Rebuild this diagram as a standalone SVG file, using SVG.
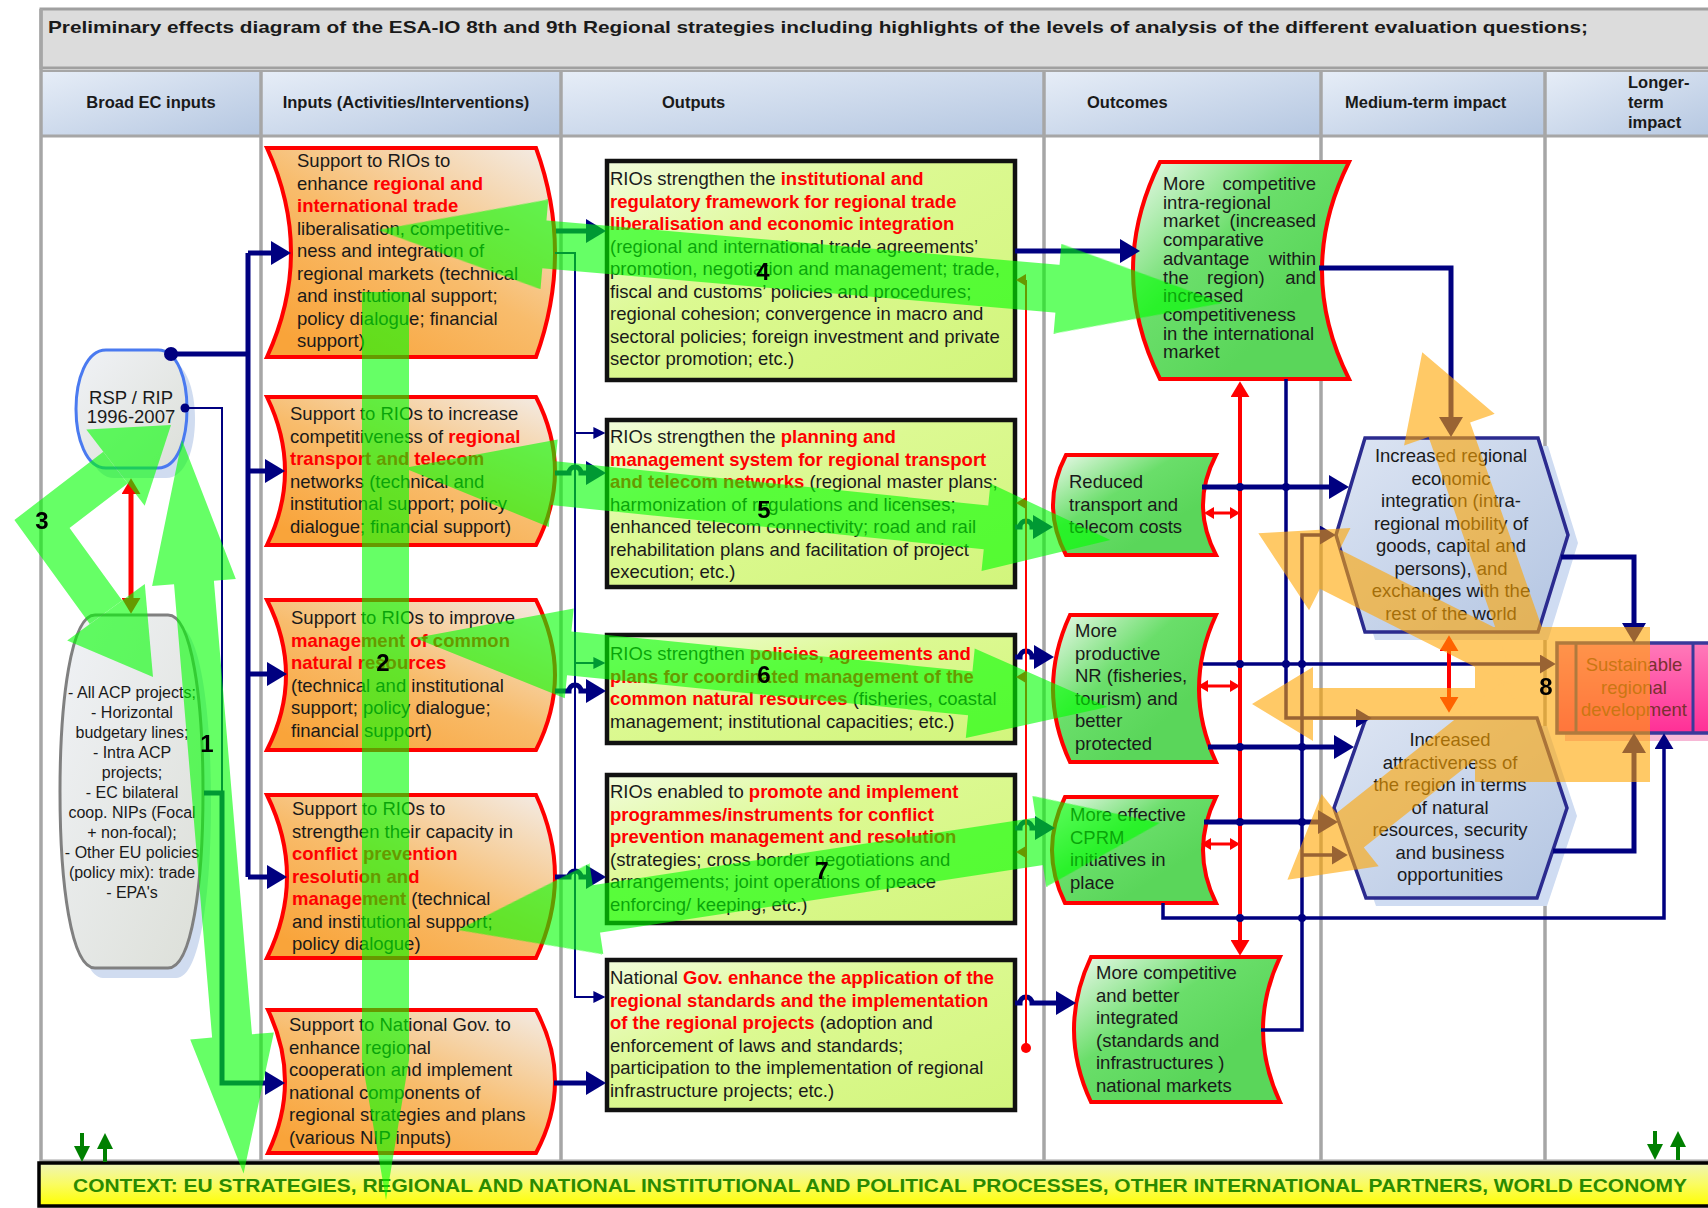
<svg xmlns="http://www.w3.org/2000/svg" width="1708" height="1208" viewBox="0 0 1708 1208">
<defs>
<style>
.tx{font-family:"Liberation Sans",Arial,sans-serif;font-size:18.5px;fill:#1a1a1a}
.r{font-weight:bold;fill:#ff0000}
.sm{font-size:16px}
.c{text-anchor:middle}
.e{text-anchor:end}
.hd{font-family:"Liberation Sans",Arial,sans-serif;font-size:16.5px;font-weight:bold;fill:#1a1a1a}
.num{font-family:"Liberation Sans",Arial,sans-serif;font-size:24px;font-weight:bold;fill:#000;text-anchor:middle}
.inp{fill:url(#gi);stroke:#ff0000;stroke-width:4}
.out{fill:url(#gu);stroke:#111;stroke-width:4.5}
.oc{fill:url(#go);stroke:#ff0000;stroke-width:4}
.hex{fill:url(#gh);stroke:#2b2b8f;stroke-width:3.5}
.hsh{fill:#cfdcf2}
.nk{fill:none;stroke:#000080;stroke-width:5}
.nm{fill:none;stroke:#000080;stroke-width:3.5}
.nt{fill:none;stroke:#000080;stroke-width:2}
.rd{fill:none;stroke:#ff0000}
.col{stroke:#a6a6a6;stroke-width:3.5}
</style>
<linearGradient id="gi" x1="1" y1="0" x2="0.2" y2="1"><stop offset="0" stop-color="#f3ede9"/><stop offset="0.55" stop-color="#f8bc6c"/><stop offset="1" stop-color="#f9a43a"/></linearGradient>
<linearGradient id="go" x1="0" y1="0" x2="0.7" y2="0.7"><stop offset="0" stop-color="#eef9ee"/><stop offset="0.55" stop-color="#6ade6a"/><stop offset="1" stop-color="#5ad65a"/></linearGradient>
<linearGradient id="gu" x1="0" y1="0" x2="1" y2="1"><stop offset="0" stop-color="#f2fcdc"/><stop offset="0.4" stop-color="#dcf992"/><stop offset="1" stop-color="#d2f57c"/></linearGradient>
<linearGradient id="gh" x1="0" y1="0" x2="1" y2="1"><stop offset="0" stop-color="#dde5f3"/><stop offset="1" stop-color="#b3c5e2"/></linearGradient>
<linearGradient id="gs" x1="0" y1="0" x2="0" y2="1"><stop offset="0" stop-color="#ff7ab9"/><stop offset="1" stop-color="#ff2f96"/></linearGradient>
<linearGradient id="gc" x1="0" y1="0" x2="0" y2="1"><stop offset="0" stop-color="#eef4b8"/><stop offset="0.5" stop-color="#fafc60"/><stop offset="1" stop-color="#ffff00"/></linearGradient>
<linearGradient id="ghd" x1="0" y1="0" x2="1" y2="1"><stop offset="0" stop-color="#e6edf7"/><stop offset="1" stop-color="#b5c7e1"/></linearGradient>
<linearGradient id="ga" x1="0" y1="0" x2="1" y2="1"><stop offset="0" stop-color="#f0f2f6"/><stop offset="1" stop-color="#dcdfd8"/></linearGradient>
<marker id="ak" viewBox="0 0 10 12" refX="7" refY="6" markerWidth="20" markerHeight="24" markerUnits="userSpaceOnUse" orient="auto"><path d="M0,0 L10,6 L0,12 z" fill="#000080"/></marker>
<marker id="am" viewBox="0 0 10 12" refX="7" refY="6" markerWidth="16" markerHeight="19" markerUnits="userSpaceOnUse" orient="auto"><path d="M0,0 L10,6 L0,12 z" fill="#000080"/></marker>
<marker id="at" viewBox="0 0 10 10" refX="8" refY="5" markerWidth="12" markerHeight="12" markerUnits="userSpaceOnUse" orient="auto"><path d="M0,0 L10,5 L0,10 z" fill="#000080"/></marker>
<marker id="rk" viewBox="0 0 10 12" refX="7" refY="6" markerWidth="16" markerHeight="19" markerUnits="userSpaceOnUse" orient="auto-start-reverse"><path d="M0,0 L10,6 L0,12 z" fill="#ff0000"/></marker>
<marker id="rs" viewBox="0 0 10 12" refX="7" refY="6" markerWidth="10" markerHeight="12" markerUnits="userSpaceOnUse" orient="auto-start-reverse"><path d="M0,0 L10,6 L0,12 z" fill="#ff0000"/></marker>
</defs>

<rect width="1708" height="1208" fill="#ffffff"/>

<g id="frame">
<rect x="41" y="9" width="1680" height="59" fill="#dcdcdc" stroke="#a0a0a0" stroke-width="3"/>
<text x="48" y="33" class="hd" font-size="17" textLength="1540" lengthAdjust="spacingAndGlyphs">Preliminary effects diagram of the ESA-IO 8th and 9th Regional strategies including highlights of the levels of analysis of the different evaluation questions;</text>
<rect x="41" y="70" width="1680" height="4" fill="#a6a6a6"/>
<rect x="41" y="72" width="220" height="64" fill="url(#ghd)"/>
<rect x="261" y="72" width="300" height="64" fill="url(#ghd)"/>
<rect x="561" y="72" width="483" height="64" fill="url(#ghd)"/>
<rect x="1044" y="72" width="277" height="64" fill="url(#ghd)"/>
<rect x="1321" y="72" width="224" height="64" fill="url(#ghd)"/>
<rect x="1545" y="72" width="170" height="64" fill="url(#ghd)"/>
<line x1="41" y1="136" x2="1708" y2="136" stroke="#a6a6a6" stroke-width="3"/>
<line x1="41" y1="1161" x2="1708" y2="1161" stroke="#a6a6a6" stroke-width="3"/>
<line class="col" x1="41" y1="9" x2="41" y2="1162"/>
<line class="col" x1="261" y1="72" x2="261" y2="1162"/>
<line class="col" x1="561" y1="72" x2="561" y2="1162"/>
<line class="col" x1="1044" y1="72" x2="1044" y2="1162"/>
<line class="col" x1="1321" y1="72" x2="1321" y2="1162"/>
<line class="col" x1="1545" y1="72" x2="1545" y2="1162"/>
<text class="hd c" x="151" y="108">Broad EC inputs</text>
<text class="hd c" x="406" y="108">Inputs (Activities/Interventions)</text>
<text class="hd" x="662" y="108">Outputs</text>
<text class="hd" x="1087" y="108">Outcomes</text>
<text class="hd" x="1345" y="108">Medium-term impact</text>
<text class="hd" x="1628" y="88">Longer-</text>
<text class="hd" x="1628" y="108">term</text>
<text class="hd" x="1628" y="128">impact</text>
</g>

<g id="context">
<rect x="39" y="1163" width="1690" height="43" fill="url(#gc)" stroke="#000" stroke-width="3.5"/>
<text x="73" y="1192" font-family="Liberation Sans, Arial, sans-serif" font-size="18" font-weight="bold" fill="#2a8a00" textLength="1614" lengthAdjust="spacingAndGlyphs">CONTEXT: EU STRATEGIES, REGIONAL AND NATIONAL INSTITUTIONAL AND POLITICAL PROCESSES, OTHER INTERNATIONAL PARTNERS, WORLD ECONOMY</text>
</g>
<g id="context-arrows" fill="#008000">
<rect x="80" y="1133" width="4" height="15"/><polygon points="74,1146 90,1146 82,1162"/>
<polygon points="97,1149 113,1149 105,1133"/><rect x="103" y="1148" width="4" height="14"/>
<rect x="1653" y="1131" width="4" height="15"/><polygon points="1647,1144 1663,1144 1655,1160"/>
<polygon points="1670,1147 1686,1147 1678,1131"/><rect x="1676" y="1146" width="4" height="14"/>
</g>

<g id="node-rsp">
<path d="M114,360 H166 C186,360 195,390 195,419 C195,448 186,478 166,478 H114 C94,478 84,448 84,419 C84,390 94,360 114,360 Z" fill="#d0dcf0"/>
<path d="M106,350 H158 C178,350 187,380 187,409 C187,438 178,468 158,468 H106 C86,468 76,438 76,409 C76,380 86,350 106,350 Z" fill="url(#ga)" stroke="#4a7af0" stroke-width="3"/>
<text class="tx c" font-size="16.5" x="131" y="404">RSP / RIP</text>
<text class="tx c" font-size="16.5" x="131" y="423">1996-2007</text>
</g>

<g id="node-acp">
<path d="M103,625 H176 C200,625 211,710 211,802 C211,894 200,978 176,978 H103 C79,978 68,894 68,802 C68,710 79,625 103,625 Z" fill="#d0dcf0"/>
<path d="M95,615 H168 C192,615 203,700 203,792 C203,884 192,968 168,968 H95 C71,968 60,884 60,792 C60,700 71,615 95,615 Z" fill="url(#ga)" stroke="#808080" stroke-width="3"/>
<g class="tx sm c">
<text class="tx sm c" x="132" y="698">- All ACP projects;</text>
<text class="tx sm c" x="132" y="718">- Horizontal</text>
<text class="tx sm c" x="132" y="738">budgetary lines;</text>
<text class="tx sm c" x="132" y="758">- Intra ACP</text>
<text class="tx sm c" x="132" y="778">projects;</text>
<text class="tx sm c" x="132" y="798">- EC bilateral</text>
<text class="tx sm c" x="132" y="818">coop. NIPs (Focal</text>
<text class="tx sm c" x="132" y="838">+ non-focal);</text>
<text class="tx sm c" x="132" y="858">- Other EU policies</text>
<text class="tx sm c" x="132" y="878">(policy mix): trade</text>
<text class="tx sm c" x="132" y="898">- EPA's</text>
</g>
</g>

<g id="node-in1">
<path class="inp" d="M267,148 L536,148 Q574,252.5 536,357 L267,357 Q315,252.5 267,148 Z"/>
<text class="tx" x="297" y="167">Support to RIOs to</text>
<text class="tx" x="297" y="189.5">enhance <tspan class="r">regional and</tspan></text>
<text class="tx" x="297" y="212"><tspan class="r">international trade</tspan></text>
<text class="tx" x="297" y="234.5">liberalisation, competitive-</text>
<text class="tx" x="297" y="257">ness and integration of</text>
<text class="tx" x="297" y="279.5">regional markets (technical</text>
<text class="tx" x="297" y="302">and institutional support;</text>
<text class="tx" x="297" y="324.5">policy dialogue; financial</text>
<text class="tx" x="297" y="347">support)</text>
</g>
<g id="node-in2">
<path class="inp" d="M267,397 L536,397 Q574,471 536,545 L267,545 Q303,471 267,397 Z"/>
<text class="tx" x="290" y="420">Support to RIOs to increase</text>
<text class="tx" x="290" y="442.5">competitiveness of <tspan class="r">regional</tspan></text>
<text class="tx" x="290" y="465"><tspan class="r">transport and telecom</tspan></text>
<text class="tx" x="290" y="487.5">networks (technical and</text>
<text class="tx" x="290" y="510">institutional support; policy</text>
<text class="tx" x="290" y="532.5">dialogue; financial support)</text>
</g>
<g id="node-in3">
<path class="inp" d="M267,600 L536,600 Q574,675 536,750 L267,750 Q305,675 267,600 Z"/>
<text class="tx" x="291" y="624">Support to RIOs to improve</text>
<text class="tx" x="291" y="646.5"><tspan class="r">management of common</tspan></text>
<text class="tx" x="291" y="669"><tspan class="r">natural resources</tspan></text>
<text class="tx" x="291" y="691.5">(technical and institutional</text>
<text class="tx" x="291" y="714">support; policy dialogue;</text>
<text class="tx" x="291" y="736.5">financial support)</text>
</g>
<g id="node-in4">
<path class="inp" d="M267,795 L536,795 Q574,876.5 536,958 L267,958 Q307,876.5 267,795 Z"/>
<text class="tx" x="292" y="815">Support to RIOs to</text>
<text class="tx" x="292" y="837.5">strengthen their capacity in</text>
<text class="tx" x="292" y="860"><tspan class="r">conflict prevention</tspan></text>
<text class="tx" x="292" y="882.5"><tspan class="r">resolution and</tspan></text>
<text class="tx" x="292" y="905"><tspan class="r">management</tspan> (technical</text>
<text class="tx" x="292" y="927.5">and institutional support;</text>
<text class="tx" x="292" y="950">policy dialogue)</text>
</g>
<g id="node-in5">
<path class="inp" d="M268,1010 L536,1010 Q574,1081.5 536,1153 L268,1153 Q302,1081.5 268,1010 Z"/>
<text class="tx" x="289" y="1031">Support to National Gov. to</text>
<text class="tx" x="289" y="1053.5">enhance regional</text>
<text class="tx" x="289" y="1076">cooperation and implement</text>
<text class="tx" x="289" y="1098.5">national components of</text>
<text class="tx" x="289" y="1121">regional strategies and plans</text>
<text class="tx" x="289" y="1143.5">(various NIP inputs)</text>
</g>

<g id="node-out1">
<rect class="out" x="607" y="161" width="408" height="219"/>
<text class="tx" x="610" y="185">RIOs strengthen the <tspan class="r">institutional and</tspan></text>
<text class="tx" x="610" y="207.5"><tspan class="r">regulatory framework for  regional trade</tspan></text>
<text class="tx" x="610" y="230"><tspan class="r">liberalisation and economic integration</tspan></text>
<text class="tx" x="610" y="252.5">(regional and international trade agreements’</text>
<text class="tx" x="610" y="275">promotion, negotiation and management; trade,</text>
<text class="tx" x="610" y="297.5">fiscal and customs’ policies and procedures;</text>
<text class="tx" x="610" y="320">regional cohesion; convergence in macro and</text>
<text class="tx" x="610" y="342.5">sectoral policies; foreign investment and private</text>
<text class="tx" x="610" y="365">sector promotion; etc.)</text>
</g>
<g id="node-out2">
<rect class="out" x="607" y="420" width="408" height="167"/>
<text class="tx" x="610" y="443">RIOs strengthen the <tspan class="r">planning and</tspan></text>
<text class="tx" x="610" y="465.5"><tspan class="r">management system for regional transport</tspan></text>
<text class="tx" x="610" y="488"><tspan class="r">and telecom networks</tspan> (regional master plans;</text>
<text class="tx" x="610" y="510.5">harmonization of regulations and licenses;</text>
<text class="tx" x="610" y="533">enhanced telecom connectivity; road and rail</text>
<text class="tx" x="610" y="555.5">rehabilitation plans and facilitation of project</text>
<text class="tx" x="610" y="578">execution; etc.)</text>
</g>
<g id="node-out3">
<rect class="out" x="607" y="635" width="408" height="108"/>
<text class="tx" x="610" y="660">RIOs strengthen <tspan class="r">policies, agreements and</tspan></text>
<text class="tx" x="610" y="682.5"><tspan class="r">plans for coordinated management of the</tspan></text>
<text class="tx" x="610" y="705"><tspan class="r">common natural resources</tspan> (fisheries, coastal</text>
<text class="tx" x="610" y="727.5">management; institutional capacities; etc.)</text>
</g>
<g id="node-out4">
<rect class="out" x="607" y="775" width="408" height="148"/>
<text class="tx" x="610" y="798">RIOs enabled to <tspan class="r">promote and implement</tspan></text>
<text class="tx" x="610" y="820.5"><tspan class="r">programmes/instruments for conflict</tspan></text>
<text class="tx" x="610" y="843"><tspan class="r">prevention  management  and resolution</tspan></text>
<text class="tx" x="610" y="865.5">(strategies; cross border negotiations and</text>
<text class="tx" x="610" y="888">arrangements; joint operations of peace</text>
<text class="tx" x="610" y="910.5">enforcing/ keeping; etc.)</text>
</g>
<g id="node-out5">
<rect class="out" x="607" y="960" width="408" height="150"/>
<text class="tx" x="610" y="984">National <tspan class="r">Gov. enhance the application of the</tspan></text>
<text class="tx" x="610" y="1006.5"><tspan class="r">regional standards and the implementation</tspan></text>
<text class="tx" x="610" y="1029"><tspan class="r">of the regional projects</tspan> (adoption and</text>
<text class="tx" x="610" y="1051.5">enforcement of laws and standards;</text>
<text class="tx" x="610" y="1074">participation to the implementation of regional</text>
<text class="tx" x="610" y="1096.5">infrastructure projects; etc.)</text>
</g>

<g id="node-oc1">
<path class="oc" d="M1160,162 L1349,162 Q1295,270.5 1349,379 L1160,379 Q1106,270.5 1160,162 Z"/>
<text class="tx" x="1163" y="190">More</text><text class="tx e" x="1316" y="190">competitive</text>
<text class="tx" x="1163" y="208.7">intra-regional</text>
<text class="tx" x="1163" y="227.4">market</text><text class="tx e" x="1316" y="227.4">(increased</text>
<text class="tx" x="1163" y="246.1">comparative</text>
<text class="tx" x="1163" y="264.8">advantage</text><text class="tx e" x="1316" y="264.8">within</text>
<text class="tx" x="1163" y="283.5">the</text><text class="tx" x="1207" y="283.5">region)</text><text class="tx e" x="1316" y="283.5">and</text>
<text class="tx" x="1163" y="302.2">increased</text>
<text class="tx" x="1163" y="320.9">competitiveness</text>
<text class="tx" x="1163" y="339.6">in the international</text>
<text class="tx" x="1163" y="358.3">market</text>
</g>
<g id="node-oc2">
<path class="oc" d="M1066,455 L1216,455 Q1190,505 1216,555 L1066,555 Q1040,505 1066,455 Z"/>
<text class="tx" x="1069" y="488">Reduced</text>
<text class="tx" x="1069" y="510.5">transport and</text>
<text class="tx" x="1069" y="533">telecom costs</text>
</g>
<g id="node-oc3">
<path class="oc" d="M1070,615 L1216,615 Q1182,688.5 1216,762 L1070,762 Q1036,688.5 1070,615 Z"/>
<text class="tx" x="1075" y="637">More</text>
<text class="tx" x="1075" y="659.5">productive</text>
<text class="tx" x="1075" y="682">NR (fisheries,</text>
<text class="tx" x="1075" y="704.5">tourism) and</text>
<text class="tx" x="1075" y="727">better</text>
<text class="tx" x="1075" y="749.5">protected</text>
</g>
<g id="node-oc4">
<path class="oc" d="M1065,797 L1216,797 Q1190,850 1216,903 L1065,903 Q1039,850 1065,797 Z"/>
<text class="tx" x="1070" y="821">More effective</text>
<text class="tx" x="1070" y="843.5">CPRM</text>
<text class="tx" x="1070" y="866">initiatives in</text>
<text class="tx" x="1070" y="888.5">place</text>
</g>
<g id="node-oc5">
<path class="oc" d="M1091,957 L1280,957 Q1246,1029.5 1280,1102 L1091,1102 Q1057,1029.5 1091,957 Z"/>
<text class="tx" x="1096" y="979">More competitive</text>
<text class="tx" x="1096" y="1001.5">and better</text>
<text class="tx" x="1096" y="1024">integrated</text>
<text class="tx" x="1096" y="1046.5">(standards and</text>
<text class="tx" x="1096" y="1069">infrastructures )</text>
<text class="tx" x="1096" y="1091.5">national markets</text>
</g>

<g id="node-hex1">
<polygon class="hsh" points="1375,446 1548,446 1578,543 1548,640 1375,640 1346,543"/>
<polygon class="hex" points="1365,438 1538,438 1568,535 1538,632 1365,632 1336,535"/>
<text class="tx c" x="1451" y="462">Increased regional</text>
<text class="tx c" x="1451" y="484.5">economic</text>
<text class="tx c" x="1451" y="507">integration (intra-</text>
<text class="tx c" x="1451" y="529.5">regional mobility of</text>
<text class="tx c" x="1451" y="552">goods, capital and</text>
<text class="tx c" x="1451" y="574.5">persons), and</text>
<text class="tx c" x="1451" y="597">exchanges with the</text>
<text class="tx c" x="1451" y="619.5">rest of the world</text>
</g>
<g id="node-hex2">
<polygon class="hsh" points="1376,726 1547,726 1577,816 1547,906 1376,906 1344,816"/>
<polygon class="hex" points="1366,718 1537,718 1567,808 1537,898 1366,898 1334,808"/>
<text class="tx c" x="1450" y="746">Increased</text>
<text class="tx c" x="1450" y="768.5">attractiveness of</text>
<text class="tx c" x="1450" y="791">the region in terms</text>
<text class="tx c" x="1450" y="813.5">of natural</text>
<text class="tx c" x="1450" y="836">resources, security</text>
<text class="tx c" x="1450" y="858.5">and business</text>
<text class="tx c" x="1450" y="881">opportunities</text>
</g>
<g id="node-sust">
<rect x="1565" y="651" width="170" height="90" fill="#f7b8d6"/>
<rect x="1557" y="643" width="170" height="90" fill="url(#gs)" stroke="#3a3a9a" stroke-width="3.5"/>
<line x1="1576" y1="643" x2="1576" y2="733" stroke="#3a3a9a" stroke-width="3"/>
<line x1="1693" y1="643" x2="1693" y2="733" stroke="#3a3a9a" stroke-width="3"/>
<text class="tx c" x="1634" y="671" fill="#7a3030" style="fill:#7a3030">Sustainable</text>
<text class="tx c" x="1634" y="694" style="fill:#7a3030">regional</text>
<text class="tx c" x="1634" y="716" style="fill:#7a3030">development</text>
</g>

<g id="connectors">
<path class="nk" d="M171,354 H248"/>
<path class="nk" d="M248,253 V877"/>
<path class="nk" d="M248,253 H285" marker-end="url(#ak)"/>
<path class="nk" d="M248,471 H279" marker-end="url(#ak)"/>
<path class="nk" d="M248,674 H281" marker-end="url(#ak)"/>
<path class="nk" d="M248,877 H281" marker-end="url(#ak)"/>
<path class="nt" d="M185,408 H222 V793"/>
<path class="nk" d="M204,793 H222 V1083 H279" marker-end="url(#ak)"/>
<circle cx="171" cy="354" r="7" fill="#000080"/>
<circle cx="185" cy="408" r="4.5" fill="#000080"/>

<path class="nt" d="M555,253 H575 V997 H603" marker-end="url(#at)"/>
<path class="nt" d="M575,433 H603" marker-end="url(#at)"/>
<path class="nt" d="M575,663 H603" marker-end="url(#at)"/>
<path class="nk" d="M556,231 H600" marker-end="url(#ak)"/>
<path class="nk" d="M555,473 H569 A6,6 0 0 1 581,473 H600" marker-end="url(#ak)"/>
<path class="nk" d="M555,691 H569 A6,6 0 0 1 581,691 H600" marker-end="url(#ak)"/>
<path class="nk" d="M555,877 H569 A6,6 0 0 1 581,877 H600" marker-end="url(#ak)"/>
<path class="nk" d="M554,1083 H600" marker-end="url(#ak)"/>

<path class="nk" d="M1015,251 H1134" marker-end="url(#ak)"/>
<path class="nk" d="M1015,527 H1020 A6,6 0 0 1 1032,527 H1047" marker-end="url(#ak)"/>
<path class="nk" d="M1015,657 H1020 A6,6 0 0 1 1032,657 H1048" marker-end="url(#ak)"/>
<path class="nk" d="M1015,828 H1020 A6,6 0 0 1 1032,828 H1049" marker-end="url(#ak)"/>
<path class="nk" d="M1015,1003 H1020 A6,6 0 0 1 1032,1003 H1070" marker-end="url(#ak)"/>

<path class="nk" d="M1319,268 H1451 V431" marker-end="url(#ak)"/>
<path class="nm" d="M1286,379 V718 H1367" marker-end="url(#am)"/>
<path class="nm" d="M1261,1030 H1302 V535 H1331" marker-end="url(#am)"/>
<path class="nm" d="M1302,855 H1343" marker-end="url(#am)"/>
<path class="nk" d="M1202,487 H1343" marker-end="url(#ak)"/>
<path class="nm" d="M1203,664 H1551" marker-end="url(#am)"/>
<path class="nk" d="M1208,747 H1348" marker-end="url(#ak)"/>
<path class="nk" d="M1204,822 H1332" marker-end="url(#ak)"/>
<path class="nm" d="M1163,903 V918 H1664 V738" marker-end="url(#am)"/>
<path class="nk" d="M1561,557 H1634 V637" marker-end="url(#ak)"/>
<path class="nk" d="M1553,851 H1634 V739" marker-end="url(#ak)"/>

<path class="rd" stroke-width="5" d="M131,483 V609" marker-start="url(#rk)" marker-end="url(#rk)"/>
<path class="rd" stroke-width="4" d="M1240,386 V951" marker-start="url(#rk)" marker-end="url(#rk)"/>
<path class="rd" stroke-width="2" d="M1026,1048 V280"/>
<path class="rd" stroke-width="2" d="M1026,280 H1019" marker-end="url(#rs)"/>
<path class="rd" stroke-width="2" d="M1026,503 H1019" marker-end="url(#rs)"/>
<path class="rd" stroke-width="2" d="M1026,677 H1019" marker-end="url(#rs)"/>
<path class="rd" stroke-width="2" d="M1026,852 H1019" marker-end="url(#rs)"/>
<circle cx="1026" cy="1048" r="5" fill="#ff0000"/>
<path class="rd" stroke-width="3" d="M1207,513 H1237" marker-start="url(#rs)" marker-end="url(#rs)"/>
<path class="rd" stroke-width="3" d="M1201,686 H1237" marker-start="url(#rs)" marker-end="url(#rs)"/>
<path class="rd" stroke-width="3" d="M1204,844 H1237" marker-start="url(#rs)" marker-end="url(#rs)"/>
<path class="rd" stroke-width="4" d="M1449,640 V708" marker-start="url(#rk)" marker-end="url(#rk)"/>

<g fill="#000080">
<circle cx="1240" cy="487" r="4"/><circle cx="1286" cy="487" r="4"/>
<circle cx="1240" cy="664" r="4"/><circle cx="1286" cy="664" r="4"/><circle cx="1302" cy="664" r="4"/>
<circle cx="1240" cy="747" r="4"/><circle cx="1302" cy="747" r="4"/>
<circle cx="1240" cy="822" r="4"/><circle cx="1302" cy="822" r="4"/>
<circle cx="1240" cy="918" r="4"/><circle cx="1302" cy="918" r="4"/>
</g>
</g>

<g id="highlight-green" opacity="0.6" fill="#00ff00">
<polygon transform="translate(378,230) rotate(4.94)" points="0,0 167,-45 167,-24 682,-24 682,-45 848,0 682,45 682,24 167,24 167,45"/>
<polygon transform="translate(404,468) rotate(5.82)" points="0,0 150,-44 150,-22 585,-22 585,-44 710,0 585,44 585,22 150,22 150,44"/>
<polygon transform="translate(415,638) rotate(5.69)" points="0,0 155,-45 155,-22 558,-22 558,-45 696,0 558,45 558,22 155,22 155,45"/>
<polygon transform="translate(458,930) rotate(-8.67)" points="0,0 140,-46 140,-24 588,-24 588,-46 710,0 588,46 588,24 140,24 140,46"/>
<polygon transform="translate(182,440) rotate(85.2)" points="0,0 143,-42 143,-20 598,-20 598,-42 736,0 598,42 598,20 143,20 143,42"/>
<polygon points="362,292 409,292 409,1060 386,1200 362,1060"/>
<path d="M115.5,467.6 L42,524 L106,612.3" fill="none" stroke="#00ff00" stroke-width="40" stroke-linejoin="miter"/>
<polygon points="171,425 144.7,505.7 86.3,429.5"/>
<polygon points="153,677 144.8,584.1 67.2,640.5"/>
</g>

<g id="highlight-orange" opacity="0.6" fill="#ffa500">
<rect x="1475" y="627" width="175" height="155"/>
<polygon transform="translate(1500,704) rotate(180)" points="0,-16 187,-16 187,-37 248,0 187,37 187,16 0,16"/>
<polygon transform="translate(1520,665) rotate(206.74)" points="0,-22 213,-22 213,-46 293,0 213,46 213,22 0,22"/>
<polygon transform="translate(1530,660) rotate(250.7)" points="0,-22 244,-22 244,-48 326,0 244,48 244,22 0,22"/>
<polygon transform="translate(1515,700) rotate(141.7)" points="0,-22 210,-22 210,-46 290,0 210,46 210,22 0,22"/>
</g>

<g id="labels">
<text class="num" x="207" y="752">1</text>
<text class="num" x="383" y="671">2</text>
<text class="num" x="42" y="529">3</text>
<text class="num" x="763" y="280">4</text>
<text class="num" x="764" y="518">5</text>
<text class="num" x="764" y="683">6</text>
<text class="num" x="822" y="879">7</text>
<text class="num" x="1546" y="695">8</text>
</g>
</svg>
